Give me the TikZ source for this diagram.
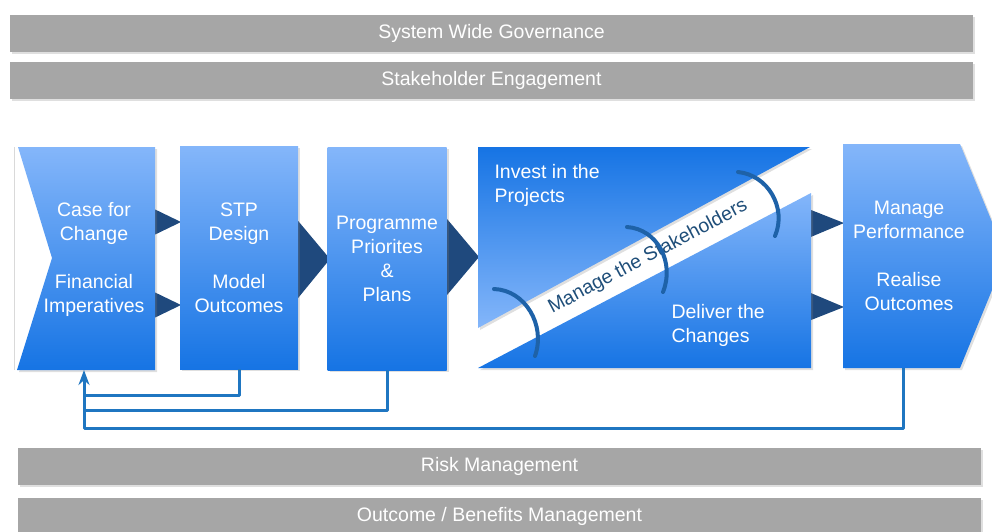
\documentclass[tikz,border=0pt]{standalone}
\usepackage{fontspec}
\setmainfont{Liberation Sans}
\usetikzlibrary{shadows,arrows.meta}

\definecolor{boxtop}{RGB}{132,182,250}
\definecolor{boxbot}{RGB}{22,116,228}
\definecolor{arrowdk}{RGB}{31,73,125}
\definecolor{fbline}{RGB}{31,118,193}
\definecolor{bargray}{RGB}{166,166,166}
\definecolor{bandtxt}{RGB}{31,78,121}
\definecolor{curlblue}{RGB}{30,98,168}

\newcommand{\boxfont}{\fontsize{19.5}{24}\selectfont}

\begin{document}
\begin{tikzpicture}[x=1pt,y=-1pt,line join=round,>={Stealth[length=15pt,width=11pt]},
	shade box/.style={top color=boxtop,bottom color=boxbot,
		drop shadow={shadow xshift=2pt,shadow yshift=-2pt,opacity=.25}},
	box/.style={shade box,text=white,align=center,font=\boxfont,inner sep=0pt},
	boxtext/.style={text=white,align=center,font=\boxfont},
	bar/.style={fill=bargray,text=white,font=\boxfont,minimum width=963pt,minimum height=37pt,
		drop shadow={shadow xshift=1.5pt,shadow yshift=-2pt,opacity=.25}},
	tri/.style={fill=arrowdk},
	fb/.style={draw=fbline,line width=3pt},
	curl/.style={draw=curlblue,line width=4pt,line cap=round}]
	\useasboundingbox (0,0) rectangle (992,531);
	\clip (0,0) rectangle (992,531);
	% Balken oben und unten
	\node[bar] (gov) at (491.5,33.5) {System Wide Governance};
	\node[bar] (engage) at (491.5,80.5) {Stakeholder Engagement};
	\node[bar] (risk) at (499.5,466.5) {Risk Management};
	\node[bar] (benefit) at (499.5,516) {Outcome / Benefits Management};
	% Pfeile zwischen den Bloecken
	\fill[tri] (150,207) -- (181,222) -- (150,237) -- cycle;
	\fill[tri] (150,290) -- (181,305) -- (150,320) -- cycle;
	\fill[tri] (294,216) -- (330,259) -- (294,303) -- cycle;
	\fill[tri] (442,213) -- (479,257) -- (442,301) -- cycle;
	\fill[tri] (806,208) -- (844,223) -- (806,239) -- cycle;
	\fill[tri] (806,291) -- (844,307) -- (806,322) -- cycle;
	% Block 1
	\draw[gray!30,line width=1pt] (14,147) -- (14,370);
	\shade[shade box] (18,147) -- (155,147) -- (155,370) -- (17,370) -- (52,258) -- cycle;
	\node[boxtext] (case) at (94,259.5) {Case for\\Change\\[24pt]Financial\\Imperatives};
	% Block 2 und 3
	\node[box,minimum width=118pt,minimum height=223pt] (stp) at (239,257.5) {STP\\Design\\[24pt]Model\\Outcomes};
	\node[box,minimum width=119pt,minimum height=223pt] (prog) at (387,258.5) {Programme\\Priorites\\\&\\Plans};
	% Block 4 mit Band
	\shade[shade box,top color=boxbot,bottom color=boxtop] (478,147) -- (810,147) -- (478,328) -- cycle;
	\shade[shade box] (478,368) -- (811,193) -- (811,368) -- cycle;
	\node[boxtext,align=left,anchor=west] (invest) at (491,185) {Invest in the\\Projects};
	\node[boxtext,align=left,anchor=west] (deliver) at (668,325) {Deliver the\\Changes};
	\node[rotate=28,text=bandtxt,font=\boxfont] (band) at (648,257) {Manage the Stakeholders};
	\draw[curl] (494,289) .. controls (525,290) and (546,325) .. (535,356);
	\draw[curl] (627,227) .. controls (657,229) and (675,262) .. (663,292);
	\draw[curl] (738,172) .. controls (768,175) and (787,208) .. (775,236);
	% Block 5
	\shade[shade box] (843,144) -- (960,144) -- (1006,256) -- (960,368) -- (843,368) -- cycle;
	\node[boxtext] (perf) at (909,256) {Manage\\Performance\\[24pt]Realise\\Outcomes};
	% Rueckfuehrung
	\coordinate (case-in) at (84,370);
	\coordinate (perf-out) at (903,368);
	\draw[fb] (stp.south) -- ++(0,26) -| ([yshift=-15pt]case-in);
	\draw[fb] (prog.south) -- ++(0,40) -| ([yshift=-15pt]case-in);
	\draw[fb,->] (perf-out) -- ++(0,60) -| (case-in);
\end{tikzpicture}
\end{document}
